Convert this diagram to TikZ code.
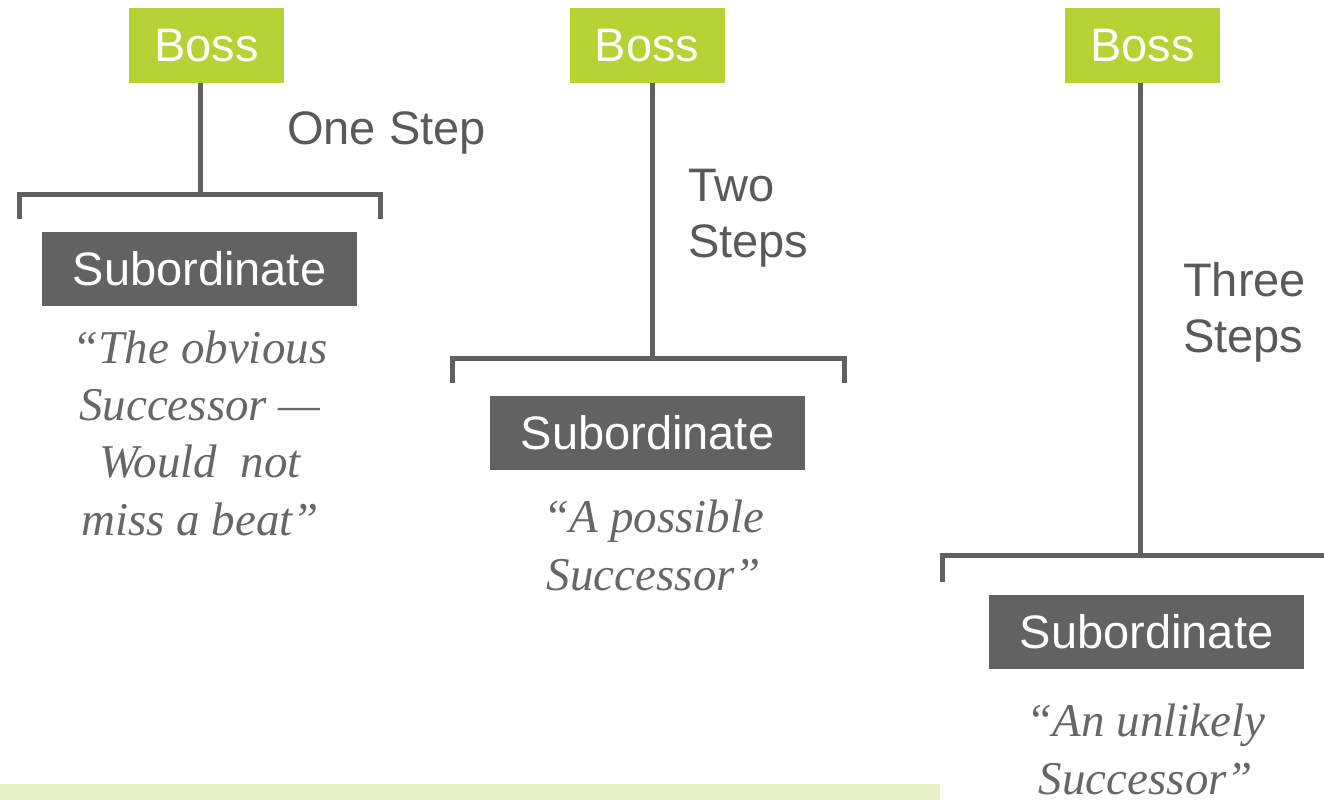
\documentclass[tikz,border=0pt]{standalone}
\usepackage{fontspec}
\setmainfont{Liberation Sans}
\newfontfamily\quotefont{Liberation Serif}
\definecolor{bossgreen}{HTML}{B5D334}
\definecolor{subgray}{HTML}{626262}
\definecolor{linegray}{HTML}{606060}
\definecolor{labelgray}{HTML}{595959}
\definecolor{quotegray}{HTML}{666666}
\definecolor{barlime}{HTML}{E8F1C4}
\begin{document}
\begin{tikzpicture}[x=1pt,y=-1pt,
  bossbox/.style={fill=bossgreen,text=white,minimum width=155pt,minimum height=75pt,inner sep=0pt,
    font=\fontsize{47}{56}\selectfont},
  subbox/.style={fill=subgray,text=white,minimum width=315pt,minimum height=74pt,inner sep=0pt,
    font=\fontsize{47}{56}\selectfont},
  steplabel/.style={text=labelgray,inner sep=0pt,align=left,anchor=base west,
    font=\fontsize{47}{55.5}\selectfont},
  quotetext/.style={text=quotegray,inner sep=0pt,align=center,anchor=base,
    font=\quotefont\itshape\fontsize{47}{57.2}\selectfont},
  link/.style={draw=linegray,line width=5pt},
  bracket/.style={draw=linegray,line width=5pt,line join=miter}]
\useasboundingbox (0,0) rectangle (1324,801);

% lime strip along the bottom
\fill[barlime] (0,784) rectangle (940,800);

% bosses
\node[bossbox] (boss1) at (206.5,45.5) {Boss};
\node[bossbox] (boss2) at (647,45.5) {Boss};
\node[bossbox] (boss3) at (1142.5,45.5) {Boss};

% subordinates
\node[subbox] (sub1) at (199.5,269) {Subordinate};
\node[subbox] (sub2) at (647.5,433) {Subordinate};
\node[subbox] (sub3) at (1146.5,632) {Subordinate};

% bracket corners
\coordinate (b1lb) at (19,219);
\coordinate (b1lt) at (19,194.5);
\coordinate (b1m)  at (200,194.5);
\coordinate (b1rt) at (380,194.5);
\coordinate (b1rb) at (380,219);

\coordinate (b2lb) at (452,383);
\coordinate (b2lt) at (452,358);
\coordinate (b2m)  at (652,358);
\coordinate (b2rt) at (844,358);
\coordinate (b2rb) at (844,383);

\coordinate (b3lb) at (942,582);
\coordinate (b3lt) at (942,555.5);
\coordinate (b3m)  at (1140,555.5);
\coordinate (b3rt) at (1330,555.5);

% stems from each boss down to its bracket
\draw[link] (boss1.south -| b1m) -- (b1m);
\draw[link] (boss2.south -| b2m) -- (b2m);
\draw[link] (boss3.south -| b3m) -- (b3m);

% brackets
\draw[bracket] (b1lb) -- (b1lt) -- (b1rt) -- (b1rb);
\draw[bracket] (b2lb) -- (b2lt) -- (b2rt) -- (b2rb);
\draw[bracket] (b3lb) -- (b3lt) -- (b3rt);

% distance labels (anchored at the baseline of the last line)
\node[steplabel] (lab1) at (287,144) {One Step};
\node[steplabel] (lab2) at (688,257) {Two\\Steps};
\node[steplabel] (lab3) at (1183,352) {Three\\Steps};

% quotes (anchored at the baseline of the last line)
\node[quotetext] (q1) at (200,535) {“The obvious\\Successor —\\Would\ \ not\\miss a beat”};
\node[quotetext] (q2) at (654,590) {“A possible\\Successor”};
\node[quotetext] (q3) at (1146,794) {“An unlikely\\Successor”};
\end{tikzpicture}
\end{document}
